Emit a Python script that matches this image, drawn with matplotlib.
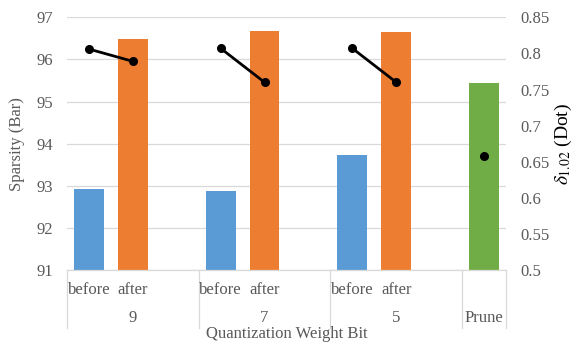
import matplotlib
matplotlib.use("Agg")
import matplotlib.pyplot as plt
import matplotlib.transforms as mtransforms
import numpy as np

plt.rcParams['font.family'] = ['Liberation Serif', 'DejaVu Serif']
plt.rcParams['mathtext.fontset'] = 'stix'

# Data
groups = ["9", "7", "5"]
stage_labels = ["before", "after"]
before_sparsity = [92.92, 92.88, 93.73]
after_sparsity = [96.49, 96.68, 96.64]
prune_sparsity = 95.44
before_delta = [0.806, 0.807, 0.807]
after_delta = [0.789, 0.760, 0.760]
prune_delta = 0.658
prune_label = "Prune"

blue = "#5B9BD5"
orange = "#ED7D31"
green = "#70AD47"
gray_text = "#595959"
grid_c = "#D9D9D9"

fig = plt.figure(figsize=(5.81, 3.42), dpi=100)
ax = fig.add_axes([67/581, 1-270/342, (506-67)/581, (270-17.3)/342])

n = len(groups)
before_x = [3*i for i in range(n)]
after_x = [3*i + 1 for i in range(n)]
prune_x = 3*n
w = 0.68

ax.bar(before_x, before_sparsity, width=w, color=blue, zorder=2)
ax.bar(after_x, after_sparsity, width=w, color=orange, zorder=2)
ax.bar([prune_x], [prune_sparsity], width=w, color=green, zorder=2)

ax.set_xlim(-0.5, prune_x + 0.5)
ax.set_ylim(91, 97)
ax.set_yticks(np.arange(91, 97.5, 1))
ax.set_yticklabels([str(v) for v in range(91, 98)])
ax.grid(axis='y', color=grid_c, lw=0.9, zorder=0)
ax.set_axisbelow(True)
ax.set_xticks([])
for s in ['top', 'left', 'right']:
    ax.spines[s].set_visible(False)
ax.spines['bottom'].set_color(grid_c)
ax.spines['bottom'].set_linewidth(0.9)
ax.tick_params(axis='y', length=0, pad=10, labelsize=12, labelcolor=gray_text)
ax.set_ylabel("Sparsity (Bar)", fontsize=12, color=gray_text, labelpad=8)

trans = mtransforms.blended_transform_factory(ax.transData, ax.transAxes)
h_px = 270 - 17.3
def yfrac(py):
    return (270 - py) / h_px

for i, g in enumerate(groups):
    ax.text(before_x[i], yfrac(290), stage_labels[0], transform=trans, ha='center', va='center',
            fontsize=12, color=gray_text)
    ax.text(after_x[i], yfrac(290), stage_labels[1], transform=trans, ha='center', va='center',
            fontsize=12, color=gray_text)
    ax.text(3*i + 1, yfrac(318), g, transform=trans, ha='center', va='center',
            fontsize=12, color=gray_text)
ax.text(prune_x, yfrac(318), prune_label, transform=trans, ha='center', va='center',
        fontsize=12, color=gray_text)

for b in [-0.5, 2.5, 5.5, 8.5, 9.5]:
    ax.plot([b, b], [0, yfrac(328)], transform=trans, color=grid_c, lw=0.9, clip_on=False)

ax.text(0.5, yfrac(334), "Quantization Weight Bit", transform=ax.transAxes, ha='center', va='center',
        fontsize=12, color=gray_text)

ax2 = ax.twinx()
ax2.set_ylim(0.5, 0.85)
ticks = [0.5, 0.55, 0.6, 0.65, 0.7, 0.75, 0.8, 0.85]
ax2.set_yticks(ticks)
ax2.set_yticklabels([("%g" % t) for t in ticks])
for s in ['top', 'left', 'right', 'bottom']:
    ax2.spines[s].set_visible(False)
ax2.tick_params(axis='y', length=0, pad=10, labelsize=12, labelcolor=gray_text)
ax2.set_ylabel(r"$\delta_{1.02}$ (Dot)", fontsize=14, color='black', labelpad=3)

for i in range(n):
    ax2.plot([before_x[i], after_x[i]], [before_delta[i], after_delta[i]], color='black',
             lw=2, marker='o', markersize=5.5, zorder=3)
ax2.plot([prune_x], [prune_delta], color='black', marker='o', markersize=5.5, lw=0, zorder=3)

fig.savefig("out.png", dpi=100)
